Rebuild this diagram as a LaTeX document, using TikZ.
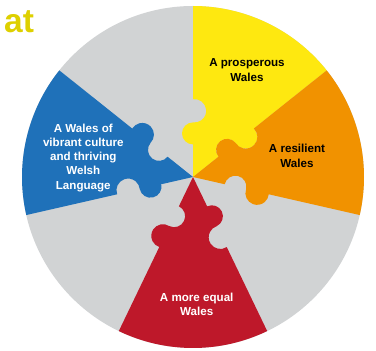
\documentclass[tikz,border=0pt]{standalone}
\usepackage{fontspec}
\setmainfont{Liberation Sans}
\usetikzlibrary{calc}
\definecolor{pzyellow}{RGB}{254,232,16}
\definecolor{pzorange}{RGB}{241,146,0}
\definecolor{pzred}{RGB}{190,24,42}
\definecolor{pzblue}{RGB}{31,113,185}
\definecolor{pzgray}{RGB}{209,211,212}
\definecolor{atcol}{RGB}{222,208,0}
\newcommand\puzzlepiece[3]{%
  \fill[#1] (c) -- ($(c)+(#2:32.5)$)
    arc[start angle=#2+180, end angle=#2, radius=11]
    arc[start angle=#2+172.7, end angle=#2+367.3, radius=11.7]
    -- ($(c)+(#2:171)$)
    arc[start angle=#2, end angle=#3, radius=171]
    -- ($(c)+(#3:77.8)$)
    arc[start angle=#3+367.3, end angle=#3+172.7, radius=11.7]
    arc[start angle=#3, end angle=#3+180, radius=11]
    -- cycle;}
\tikzset{
  lbl/.style={font=\fontsize{11.6}{14.3}\selectfont\bfseries, align=center, inner sep=0pt},
}
\begin{document}
\begin{tikzpicture}[x=1pt,y=1pt]
\useasboundingbox (0,0) rectangle (376,351);
\coordinate (c) at (193,174);
\fill[pzgray] (c) circle[radius=171];
\puzzlepiece{pzyellow}{38.5714}{90}
\puzzlepiece{pzorange}{-12.8571}{38.5714}
\puzzlepiece{pzred}{-115.7143}{-64.2857}
\puzzlepiece{pzblue}{141.4286}{192.8571}
\node[lbl, text=black] (prosp) at (247,281) {A prosperous\\Wales};
\node[lbl, text=black] (resil) at (297,195) {A resilient\\Wales};
\node[lbl, text=white] (cult) at (83.3,193.3) {A Wales of\\vibrant culture\\and thriving\\Welsh\\Language};
\node[lbl, text=white] (equal) at (196.7,46.3) {A more equal\\Wales};
\node[anchor=base west, inner sep=0pt, text=atcol, font=\fontsize{33.5}{36}\selectfont\bfseries] (at) at (4,318) {at};
\end{tikzpicture}
\end{document}
